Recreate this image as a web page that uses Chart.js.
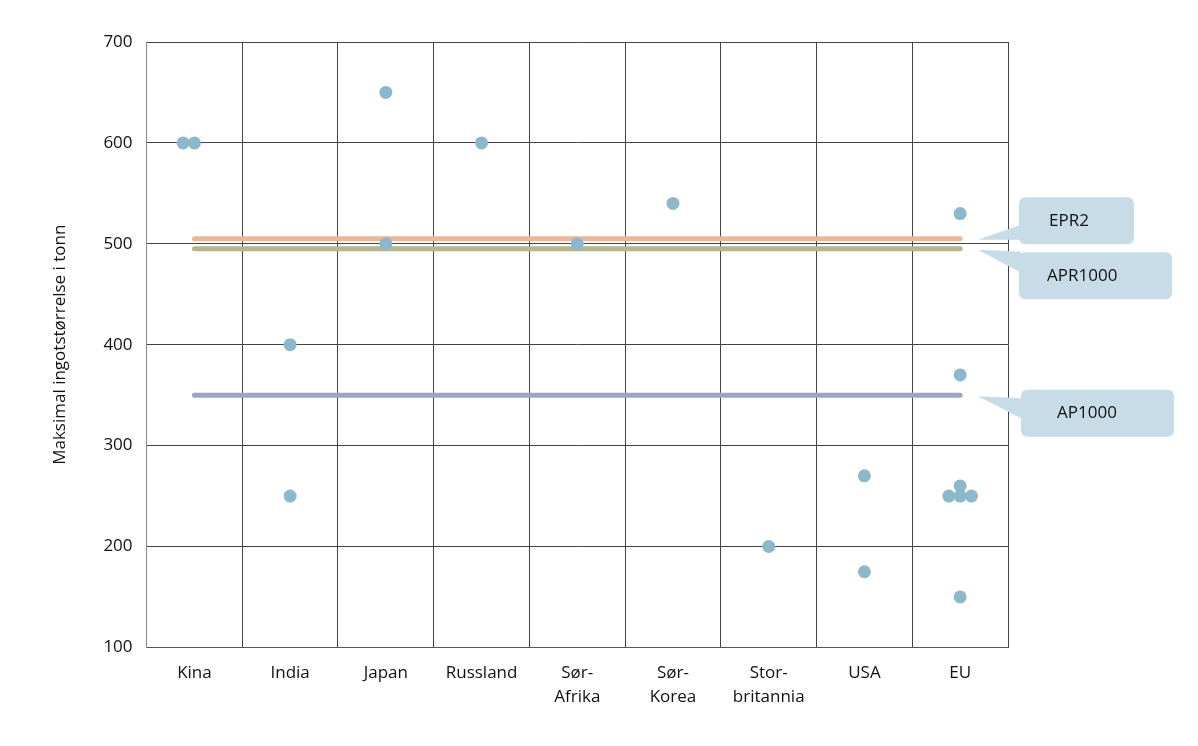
<!DOCTYPE html>
<html>
<head>
<meta charset="utf-8">
<script src="https://cdn.jsdelivr.net/npm/chart.js@4/dist/chart.umd.min.js"></script>
<style>
html,body{margin:0;padding:0;background:#fff;}
#wrap{width:1198px;height:746px;}
</style>
</head>
<body>
<div id="wrap"><canvas id="c" width="1198" height="746"></canvas></div>
<script>
// ---- data ----
const categories = [["Kina"],["India"],["Japan"],["Russland"],["Sør-","Afrika"],["Sør-","Korea"],["Stor-","britannia"],["USA"],["EU"]];
const valKina = [600, 600];
const valIndia = [400, 250];
const valJapan = [650, 500];
const valRussland = [600];
const valSorAfrika = [500];
const valSorKorea = [540];
const valStorbritannia = [200];
const valUSA = [270, 175];
const valEU = [530, 370, 260, 250, 250, 250, 150];
const reactorNames = ["EPR2", "APR1000", "AP1000"];
const reactorValues = [505, 495, 350];
const yTicks = [100, 200, 300, 400, 500, 600, 700];

const allVals = [valKina, valIndia, valJapan, valRussland, valSorAfrika, valSorKorea, valStorbritannia, valUSA, valEU];
const FONT = "'Open Sans', 'Noto Sans', sans-serif";
const JIT = 0.118; // spacing for coincident points (in category units)

// build scatter points; coincident values placed side by side
const pts = [];
allVals.forEach((arr, i) => {
  const counts = {};
  arr.forEach(v => counts[v] = (counts[v] || 0) + 1);
  const seen = {};
  arr.forEach(v => {
    const n = counts[v];
    const k = seen[v] = (seen[v] === undefined ? 0 : seen[v] + 1);
    const off = n > 1 ? (k - Math.floor(n / 2)) * JIT : 0;
    pts.push({x: i + off, y: v});
  });
});

const lineColors = ["#e9b898", "#b4b78a", "#9aa6c4"];
const lineSets = reactorNames.map((name, j) => ({
  type: 'line',
  label: name,
  data: [{x: 0, y: reactorValues[j]}, {x: categories.length - 1, y: reactorValues[j]}],
  borderColor: lineColors[j],
  borderWidth: 5,
  borderCapStyle: 'round',
  pointRadius: 0,
  xAxisID: 'xl',
  order: 2
}));

// callout plugin
const calloutOffsets = [-18, 27, 18]; // box centre relative to line
const calloutWidths = [115, 153, 153];
const calloutLeft = [11, 11, 13];
const calloutTextInset = [30, 28, 36];
const calloutPlugin = {
  id: 'callouts',
  afterDraw(chart) {
    const ctx = chart.ctx;
    const ys = chart.scales.y;
    const area = chart.chartArea;
    ctx.save();
    reactorNames.forEach((name, j) => {
      const ly = ys.getPixelForValue(reactorValues[j]);
      const bx = area.right + calloutLeft[j];
      const bh = 47;
      const cy = ly + calloutOffsets[j];
      const by = cy - bh / 2;
      const bw = calloutWidths[j];
      const tipX = area.right - 30;
      ctx.fillStyle = '#c8dce7';
      // pointer
      ctx.beginPath();
      ctx.moveTo(tipX, ly + 1);
      if (calloutOffsets[j] < 0) {
        ctx.lineTo(bx + 2, ly - 14);
        ctx.lineTo(bx + 2, ly + 1);
      } else {
        ctx.lineTo(bx + 2, ly + 3);
        ctx.lineTo(bx + 2, ly + 24);
      }
      ctx.closePath();
      ctx.fill();
      // box
      const r = 7;
      ctx.beginPath();
      ctx.moveTo(bx + r, by);
      ctx.lineTo(bx + bw - r, by);
      ctx.quadraticCurveTo(bx + bw, by, bx + bw, by + r);
      ctx.lineTo(bx + bw, by + bh - r);
      ctx.quadraticCurveTo(bx + bw, by + bh, bx + bw - r, by + bh);
      ctx.lineTo(bx + r, by + bh);
      ctx.quadraticCurveTo(bx, by + bh, bx, by + bh - r);
      ctx.lineTo(bx, by + r);
      ctx.quadraticCurveTo(bx, by, bx + r, by);
      ctx.closePath();
      ctx.fill();
      ctx.fillStyle = '#111';
      ctx.font = '17px ' + FONT;
      ctx.textAlign = 'left';
      ctx.textBaseline = 'middle';
      ctx.fillText(name, bx + calloutTextInset[j], cy);
    });
    ctx.restore();
  }
};

new Chart(document.getElementById('c'), {
  data: {
    labels: categories,
    datasets: [
      {
        type: 'scatter',
        label: 'Ingot',
        data: pts,
        backgroundColor: '#8db7cb',
        borderWidth: 0,
        pointRadius: 6.5,
        pointHoverRadius: 6.5,
        xAxisID: 'xl',
        order: 1
      },
      ...lineSets
    ]
  },
  options: {
    responsive: false,
    animation: false,
    events: [],
    layout: {padding: {top: 42, right: 190, bottom: 23, left: 46}},
    plugins: {legend: {display: false}, tooltip: {enabled: false}},
    scales: {
      x: {
        type: 'category',
        offset: true,
        grid: {offset: true, color: '#444', lineWidth: 1, drawTicks: false},
        border: {color: '#555'},
        ticks: {color: '#111', font: {family: FONT, size: 17, lineHeight: 1.4}, padding: 14, maxRotation: 0, autoSkip: false}
      },
      xl: {
        type: 'linear',
        display: false,
        min: -0.5,
        max: categories.length - 0.5
      },
      y: {
        min: 100,
        max: 700,
        afterBuildTicks(ax) { ax.ticks = yTicks.map(v => ({value: v})); },
        grid: {color: '#444', lineWidth: 1, drawTicks: false},
        border: {color: '#888'},
        ticks: {color: '#111', font: {family: FONT, size: 17}, padding: 14},
        title: {display: true, text: 'Maksimal ingotstørrelse i tonn', color: '#111', font: {family: FONT, size: 17}, padding: {bottom: 19}}
      }
    }
  },
  plugins: [calloutPlugin]
});
</script>
</body>
</html>
